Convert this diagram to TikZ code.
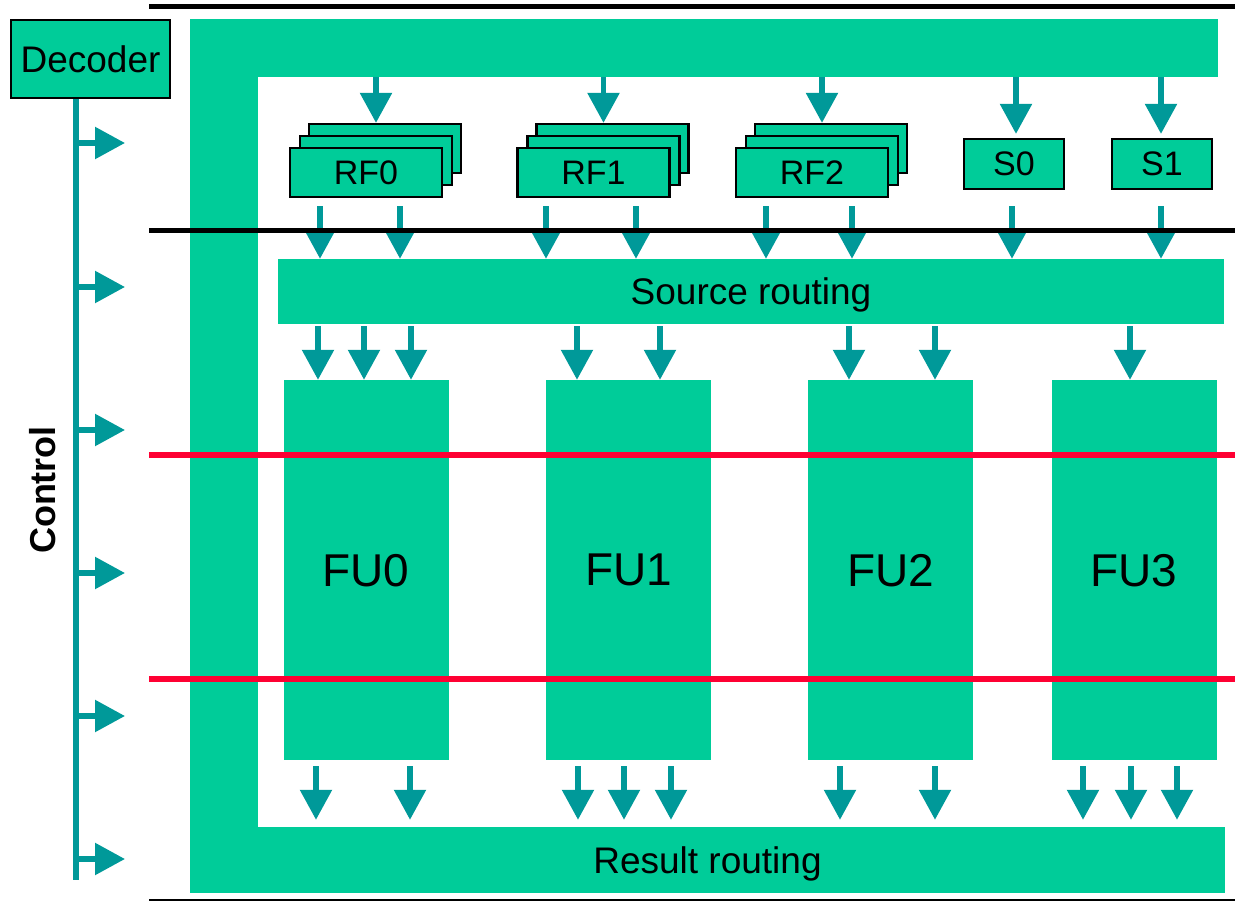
\documentclass[tikz,border=0pt]{standalone}
\usepackage{fontspec}
\setmainfont{Liberation Sans}
\usetikzlibrary{arrows.meta,positioning}
\definecolor{unitgreen}{RGB}{0,204,153}
\definecolor{wireteal}{RGB}{0,153,153}
\definecolor{stagered}{RGB}{255,0,51}

\begin{document}
\begin{tikzpicture}[x=1pt,y=-1pt,>={Triangle[length=30pt,width=31pt]},
                    wire/.style={->,draw=wireteal,line width=5.5pt},
                    bar node/.style={fill=unitgreen,inner sep=0pt,text depth=0pt,font=\fontsize{37}{40}\selectfont},
                    reg node/.style={bar node,draw=black,line width=2.2pt,minimum height=49pt,
                                     minimum width=152pt,font=\fontsize{34}{38}\selectfont},
                    fu node/.style={bar node,minimum width=165pt,minimum height=380pt,
                                    font=\fontsize{46}{50}\selectfont}]
  \useasboundingbox (0,0) rectangle (1235,901);

  % routing frame
  \node[bar node,minimum width=1028pt,minimum height=58pt] (top) at (704,48) {};
  \node[bar node,minimum width=68pt,minimum height=874pt] (side) at (224,456) {};
  \node[bar node,minimum width=1035pt,minimum height=66pt] (res) at (707.5,860) {Result routing};
  \node[bar node,minimum width=946pt,minimum height=65pt] (src) at (751,291.5) {Source routing};

  \node[fu node] (fu0) at (366,570) {FU0};
  \node[fu node] (fu1) at (628.5,570) {FU1};
  \node[fu node] (fu2) at (890.5,570) {FU2};
  \node[fu node] (fu3) at (1134,570) {FU3};

  % register files
  \foreach \n/\x in {0/366,1/593.5,2/812}{
    \node[reg node] (rfback\n) at (\x+19,148.5) {};
    \node[reg node] (rfmid\n) at (\x+10,160.5) {};
    \node[reg node] (rf\n) at (\x,172.5) {RF\n};
    \draw[wire] (rfmid\n |- top.south) -- (rfmid\n |- rfback\n.north);
  }
  \node[reg node,minimum width=100pt,minimum height=50pt] (s0) at (1014,164) {S0};
  \node[reg node,minimum width=100pt,minimum height=50pt] (s1) at (1162,164) {S1};
  \draw[wire,shorten >=4pt] (1016,0 |- top.south) -- (1016,0 |- s0.north);
  \draw[wire,shorten >=4pt] (1161,0 |- top.south) -- (1161,0 |- s1.north);

  \foreach \n/\x in {rf0/320,rf0/400,rf1/546,rf1/636,rf2/766,rf2/852}
    \draw[wire,shorten <=8pt] (\x,0 |- \n.south) -- (\x,0 |- src.north);
  \foreach \n/\x in {s0/1012,s1/1161}
    \draw[wire,shorten <=16pt] (\x,0 |- \n.south) -- (\x,0 |- src.north);

  \foreach \n/\x in {fu0/318,fu0/364,fu0/411,fu1/577,fu1/660,fu2/849,fu2/935,fu3/1130}
    \draw[wire,shorten <=2pt] (\x,0 |- src.south) -- (\x,0 |- \n.north);
  \foreach \n/\x in {fu0/316,fu0/410,fu1/578,fu1/624,fu1/671,fu2/840,fu2/935,fu3/1083,fu3/1131,fu3/1177}
    \draw[wire,shorten <=6pt,shorten >=7pt] (\x,0 |- \n.south) -- (\x,0 |- res.north);

  % pipeline stage lines
  \draw[line width=5pt] (149,7) -- (1235,7);
  \draw[line width=5pt] (149,231) -- (1235,231);
  \draw[stagered,line width=6pt] (149,455) -- (1235,455);
  \draw[stagered,line width=6pt] (149,679) -- (1235,679);
  \draw[line width=1.5pt] (149,900) -- (1235,900);

  % control
  \node[bar node,draw=black,line width=2.2pt,minimum width=159pt,minimum height=78pt] (dec) at (90.5,59) {Decoder};
  \coordinate (ctl) at (76,880);
  \draw[wireteal,line width=5.5pt] (dec.south -| ctl) -- (ctl);
  \foreach \y in {143,287,430,573,716,859}
    \draw[wire] (ctl |- 0,\y) -- ++(49,0);
  \node[rotate=90,font=\fontsize{36}{40}\selectfont\bfseries] (ctltext) at (43,490) {Control};
\end{tikzpicture}
\end{document}
